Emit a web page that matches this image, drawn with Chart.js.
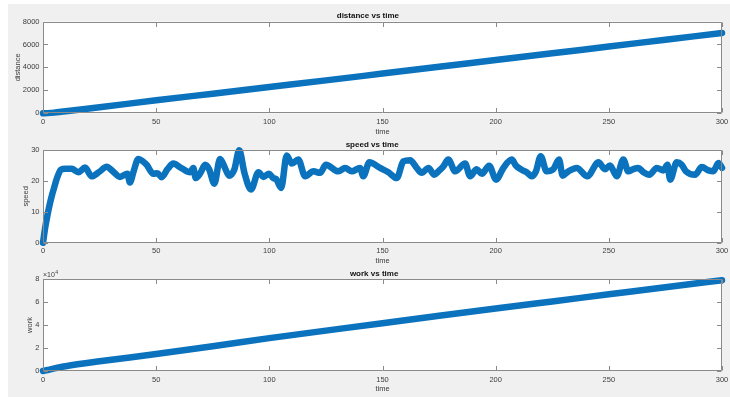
<!DOCTYPE html>
<html>
<head>
<meta charset="utf-8">
<script src="https://cdn.jsdelivr.net/npm/chart.js@4.4.1/dist/chart.umd.min.js"></script>
<style>
  html, body { margin: 0; padding: 0; background: #ffffff; }
  #fig { position: absolute; left: 8px; top: 4px; width: 722px; height: 393px; background: #f0f0f0; }
  canvas { position: absolute; left: 0; top: 0; }
</style>
</head>
<body>
<div id="fig"></div>
<canvas id="c1" width="730" height="397"></canvas>
<canvas id="c2" width="730" height="397"></canvas>
<canvas id="c3" width="730" height="397"></canvas>
<script>
// ---- data ----
const titles = ['distance vs time', 'speed vs time', 'work vs time'];
const yLabels = ['distance', 'speed', 'work'];
const xLabel = 'time';
const xTicks = [0, 50, 100, 150, 200, 250, 300];
const distanceTicks = [0, 2000, 4000, 6000, 8000];
const speedTicks = [0, 10, 20, 30];
const workTicks = [0, 20000, 40000, 60000, 80000];

const distanceTime = [0, 2, 5, 8, 10, 25, 50, 75, 100, 125, 150, 175, 200, 225, 250, 275, 300];
const distance     = [0, 15, 60, 130, 180, 530, 1130, 1710, 2290, 2870, 3460, 4050, 4640, 5230, 5820, 6410, 7000];

const speedTime = [0, 1, 2, 3, 4, 5, 6, 7, 7.8, 10, 12.7, 15.6, 18.6, 21.5, 25, 28.1, 31, 34, 37.3, 38.4, 40, 42.1, 45.8, 48.7,
  50.5, 52.4, 55, 57.6, 61, 65, 66.4, 67.5, 69.5, 71.6, 73.4, 75.7, 78.2, 80.4, 82.2, 84.5, 86.7, 89, 91.9, 95.2, 97.4, 99.9,
  101.8, 103, 105.2, 107.7, 109.9, 112.8, 115.8, 119.5, 122.4, 125, 130.5, 133.5, 136.4, 140.1, 141.5, 144.2, 148.9,
  152.6, 156.3, 159.2, 162.2, 165.1, 167.3, 170.3, 172.9, 174.7, 176.9, 179.1, 182.1, 186.5, 188.7, 191.6, 193.9, 197.1,
  200.2, 203.4, 207.1, 209, 211.5, 213.7, 215.9, 217.8, 219.9, 222.5, 225.5, 228, 229.6, 232.1, 235.8, 240.5, 245.4, 248.3,
  250.5, 253.5, 256.4, 258.6, 260.8, 263, 265.3, 267.9, 271.2, 274.1, 275.9, 277.1, 280, 282.2, 284.1, 288.1, 291.1, 294,
  296.2, 298.4, 300];
const speed = [0, 5, 9, 12.5, 15.5, 18, 20.5, 22.5, 23.6, 23.9, 23.9, 22.8, 24.3, 21.5, 23, 24.6, 23, 21.3, 22.3, 19.5, 23, 27.1, 25.2, 22.3,
  22.5, 21.2, 23.8, 25.6, 24.2, 22.8, 24.2, 20.9, 22.5, 25.2, 23.8, 19.1, 27.1, 24.2, 21.7, 23.6, 29.9, 22.6, 17.2, 22.8, 21.3, 22.3,
  20.9, 20.6, 17.7, 28.2, 25.6, 26.9, 21.5, 23.1, 22.6, 25.2, 23.1, 24.2, 23.1, 24.2, 21.5, 26, 24.2,
  22.8, 20.9, 26.3, 26.7, 24.2, 22.6, 24.2, 22, 23.1, 24.7, 26.9, 23.1, 25.6, 21.5, 23.8, 22.3, 24.9,
  20.4, 24.2, 26.9, 24.9, 23.6, 22.8, 21.5, 23.1, 28, 23.1, 23.8, 26.9, 21.7, 23.1, 24.2, 21.5, 26, 23.8,
  25, 21.5, 26.9, 23.1, 23.8, 24.2, 22.8, 22, 24.2, 23.4, 25.2, 20.4, 26, 25.2, 23.1, 22, 24.5, 23.4,
  23.1, 25.8, 24.2];

const workTime = [0, 2, 5, 8, 10, 25, 50, 75, 100, 125, 150, 175, 200, 225, 250, 275, 300];
const work     = [0, 900, 2300, 3500, 4200, 8400, 14800, 21600, 28600, 35100, 41600, 48000, 54300, 60500, 66700, 72900, 79000];

// ---- helpers ----
const FONT = 'Liberation Sans, Arial, Helvetica, sans-serif';
const TEXT = '#3c3c3c';
const AXIS = '#8a8a8a';
const BLUE = '#0b72bd';

function pts(xs, ys) { return xs.map((x, i) => ({ x: x, y: ys[i] })); }

const boxPlugin = {
  id: 'box',
  beforeDraw(chart) {
    const { ctx, chartArea: a } = chart;
    ctx.save();
    ctx.fillStyle = '#ffffff';
    ctx.fillRect(a.left, a.top, a.right - a.left, a.bottom - a.top);
    ctx.restore();
  },
  afterDraw(chart) {
    const { ctx, chartArea: a, scales: { x, y } } = chart;
    const L = Math.round(a.left) + 0.5, R = Math.round(a.right) - 0.5;
    const T = Math.round(a.top) + 0.5, B = Math.round(a.bottom) - 0.5;
    ctx.save();
    ctx.strokeStyle = AXIS;
    ctx.lineWidth = 1;
    ctx.beginPath();
    ctx.rect(L, T, R - L, B - T);
    const tl = 4.5;
    x.ticks.forEach(t => {
      const px = Math.round(x.getPixelForValue(t.value)) + 0.5;
      ctx.moveTo(px, B); ctx.lineTo(px, B - tl);
      ctx.moveTo(px, T); ctx.lineTo(px, T + tl);
    });
    y.ticks.forEach(t => {
      const py = Math.round(y.getPixelForValue(t.value)) + 0.5;
      ctx.moveTo(L, py); ctx.lineTo(L + tl, py);
      ctx.moveTo(R, py); ctx.lineTo(R - tl, py);
    });
    ctx.stroke();
    const exp = chart.options.plugins.box && chart.options.plugins.box.exponent;
    if (exp) {
      ctx.fillStyle = TEXT;
      ctx.textBaseline = 'alphabetic';
      ctx.textAlign = 'left';
      ctx.font = '7px ' + FONT;
      ctx.fillText('\u00d710', a.left, a.top - 2);
      const w = ctx.measureText('\u00d710').width;
      ctx.font = '5px ' + FONT;
      ctx.fillText(exp, a.left + w + 0.5, a.top - 5.5);
    }
    ctx.restore();
  }
};

function makeChart(id, opts) {
  const c = document.getElementById(id);
  return new Chart(c, {
    type: 'line',
    data: {
      datasets: [{
        data: opts.data,
        borderColor: BLUE,
        backgroundColor: BLUE,
        borderWidth: 6.5,
        borderCapStyle: 'round',
        borderJoinStyle: 'round',
        pointRadius: 0,
        cubicInterpolationMode: 'monotone',
        clip: 6,
        fill: false
      }]
    },
    options: {
      responsive: false,
      animation: false,
      events: [],
      layout: { padding: { left: opts.pl, right: 8, top: opts.pt, bottom: opts.pb } },
      plugins: {
        legend: { display: false },
        tooltip: { enabled: false },
        title: {
          display: true, text: opts.title, color: '#111',
          font: { family: FONT, size: 8, weight: 'bold', lineHeight: 1 },
          padding: { top: 0, bottom: 1.5 }
        },
        box: { exponent: opts.exponent || null }
      },
      scales: {
        x: {
          type: 'linear', min: 0, max: 300,
          afterBuildTicks: s => { s.ticks = xTicks.map(v => ({ value: v })); },
          ticks: { color: TEXT, font: { family: FONT, size: 7.5 }, padding: 4, maxRotation: 0,
                   callback: v => String(v) },
          grid: { display: false, drawTicks: false },
          border: { display: false },
          title: { display: true, text: xLabel, color: TEXT, font: { family: FONT, size: 7.5, lineHeight: 1 }, padding: 0 },
          afterFit: s => { s.height = 22; s.paddingLeft = 0; s.paddingRight = 0; }
        },
        y: {
          type: 'linear', min: opts.yTicks[0], max: opts.yTicks[opts.yTicks.length - 1],
          afterBuildTicks: s => { s.ticks = opts.yTicks.map(v => ({ value: v })); },
          ticks: { color: TEXT, font: { family: FONT, size: 7.5 }, padding: 3.5,
                   callback: opts.yFmt || (v => String(v)) },
          grid: { display: false, drawTicks: false },
          border: { display: false },
          title: { display: true, text: opts.yLabel, color: TEXT, font: { family: FONT, size: 7.5, lineHeight: 1 }, padding: 0 },
          afterFit: s => { s.width = 43 - opts.pl; s.paddingTop = 0; s.paddingBottom = 0; }
        }
      }
    },
    plugins: [boxPlugin]
  });
}

makeChart('c1', { data: pts(distanceTime, distance), title: titles[0], yLabel: yLabels[0],
  yTicks: distanceTicks, pl: 13.75, pt: 12, pb: 261.7 });
makeChart('c2', { data: pts(speedTime, speed), title: titles[1], yLabel: yLabels[1],
  yTicks: speedTicks, pl: 22.25, pt: 140.5, pb: 132.3 });
makeChart('c3', { data: pts(workTime, work), title: titles[2], yLabel: yLabels[2],
  yTicks: workTicks, pl: 26.25, pt: 269.5, pb: 4, exponent: '4',
  yFmt: v => String(v / 10000) });
</script>
</body>
</html>
